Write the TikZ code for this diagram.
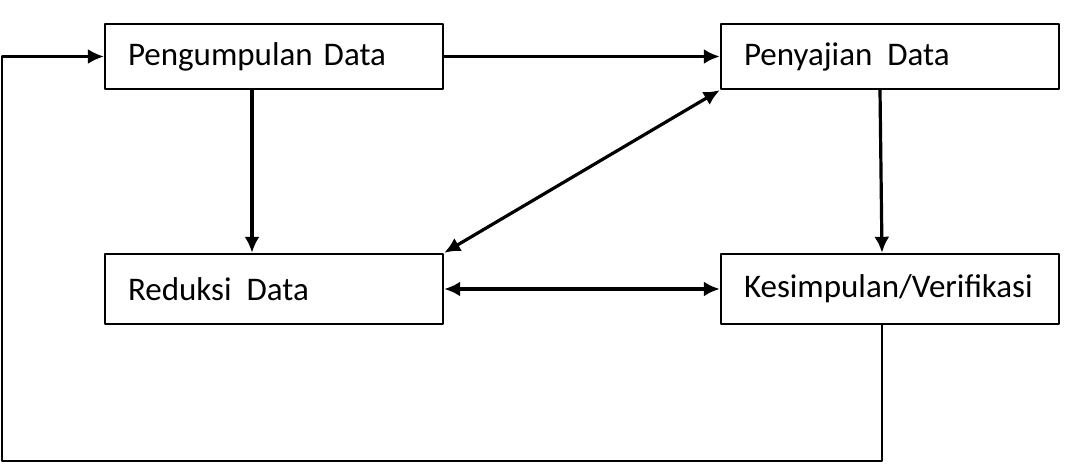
\documentclass[tikz,border=0pt]{standalone}
\usepackage{fontspec}
\setmainfont{Carlito}
\usetikzlibrary{arrows.meta}
\begin{document}
\begin{tikzpicture}[x=1pt,y=1pt,line cap=round,line join=round,
  box/.style={draw,line width=2.4pt,minimum width=338pt,text width=292pt,
    inner xsep=23pt,align=left,font=\fontsize{33}{39}\selectfont},
  arr/.style={line width=3.2pt,-{Latex[length=16pt,width=15pt]}},
  darr/.style={line width=3.2pt,{Latex[length=16pt,width=15pt]}-{Latex[length=16pt,width=15pt]}}]
  \useasboundingbox (0,0) rectangle (1065,463);
  \node[box,minimum height=65pt] (peng) at (274,406.5) {Pengumpulan Data};
  \node[box,minimum height=65pt] (peny) at (890,406.5) {Penyajian\hspace{15pt}Data};
  \node[box,minimum height=70pt] (red) at (274,174) {Reduksi\hspace{15pt}Data};
  \node[box,minimum height=70pt] (kes) at (890,174) {Kesimpulan/Verifikasi};
  \coordinate (fb) at (2,2);
  \draw[arr] (peng.east) -- (peny.west);
  \draw[arr] ([xshift=-22pt]peng.south) -- ([xshift=-22pt]red.north);
  \draw[arr] ([xshift=-10pt]peny.south) -- ([xshift=-8pt]kes.north);
  \draw[darr] (red.north east) -- (peny.south west);
  \draw[darr] (red.east) -- (kes.west);
  \draw[arr,line width=2.4pt] ([xshift=-8pt]kes.south) |- (fb) |- (peng.west);
\end{tikzpicture}
\end{document}
